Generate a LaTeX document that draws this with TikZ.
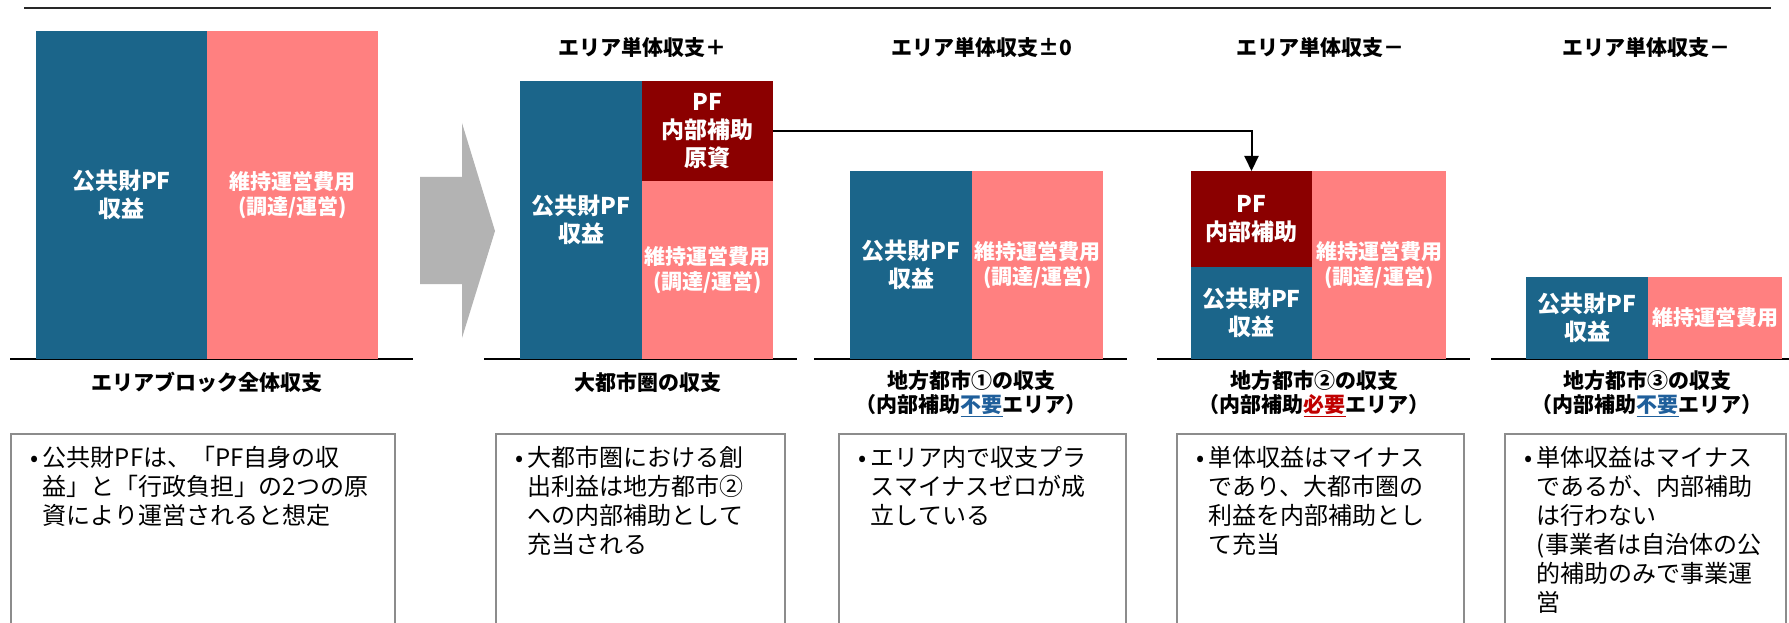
\documentclass[tikz,border=0pt]{standalone}
\usepackage{fontspec}
\setmainfont{Noto Sans CJK JP}
\usetikzlibrary{arrows.meta}
\definecolor{revblue}{RGB}{27,101,138}
\definecolor{costpink}{RGB}{255,128,128}
\definecolor{subred}{RGB}{139,0,0}
\definecolor{arrowgray}{RGB}{179,179,179}
\definecolor{notegray}{RGB}{140,140,140}
\definecolor{rulegray}{RGB}{40,40,40}
\definecolor{noneedblue}{RGB}{31,95,155}
\definecolor{needred}{RGB}{192,0,0}

\begin{document}
\begin{tikzpicture}[x=1pt, y=-1pt, >={Triangle[width=14pt,length=15pt]},
        revbar/.style={fill=revblue, text=white, inner sep=0pt, outer sep=0pt, align=center, font=\fontsize{23}{28}\selectfont\bfseries},
        subbar/.style={revbar, fill=subred},
        costbar/.style={revbar, fill=costpink, font=\fontsize{21}{25}\selectfont\bfseries},
        title/.style={font=\fontsize{21}{25}\selectfont\bfseries},
        caption/.style={align=center, inner sep=0pt, font=\fontsize{21}{24}\selectfont\bfseries},
        note/.style={draw=notegray, line width=1.5pt, anchor=north west, align=left, inner xsep=20pt, inner ysep=12pt, text depth=200pt, font=\fontsize{24}{29}\selectfont}]
        \useasboundingbox (0,0) rectangle (1789,623);
        \clip (0,0) rectangle (1789,623);

        % Rules
        \draw[line width=1.5pt, rulegray] (24,8) -- (1771,8);
        \foreach \a/\b in {10/413, 484/797, 814/1127, 1157/1470, 1491/1789}
            \draw[line width=1.5pt] (\a,359) -- (\b,359);

        % Whole area
        \node[revbar, minimum width=171pt, minimum height=328pt] (allrev) at (121.5,195) {公共財PF\\収益};
        \node[costbar, minimum width=171pt, minimum height=328pt] (allcost) at (292.5,195) {維持運営費用\\(調達/運営)};
        \fill[arrowgray] (420,177) -- (462,177) -- (462,123) -- (495,231) -- (462,338) -- (462,284) -- (420,284) -- cycle;

        % Metro area
        \node[revbar, minimum width=122pt, minimum height=278pt] (metrorev) at (581,220) {公共財PF\\収益};
        \node[subbar, minimum width=131pt, minimum height=100pt] (metrosrc) at (707.5,131) {PF\\内部補助\\原資};
        \node[costbar, minimum width=131pt, minimum height=178pt] (metrocost) at (707.5,270) {維持運営費用\\(調達/運営)};

        % City 1
        \node[revbar, minimum width=122pt, minimum height=188pt] (cityArev) at (911,265) {公共財PF\\収益};
        \node[costbar, minimum width=131pt, minimum height=188pt] (cityAcost) at (1037.5,265) {維持運営費用\\(調達/運営)};

        % City 2
        \node[subbar, minimum width=121pt, minimum height=96pt] (cityBsub) at (1251.5,219) {PF\\内部補助};
        \node[revbar, minimum width=121pt, minimum height=92pt] (cityBrev) at (1251.5,313) {公共財PF\\収益};
        \node[costbar, minimum width=134pt, minimum height=188pt] (cityBcost) at (1379,265) {維持運営費用\\(調達/運営)};

        % City 3
        \node[revbar, minimum width=122pt, minimum height=82pt] (cityCrev) at (1587,318) {公共財PF\\収益};
        \node[costbar, minimum width=134pt, minimum height=82pt] (cityCcost) at (1715,318) {維持運営費用};

        % Subsidy flow
        \draw[->, line width=2pt] (metrosrc.east) -| (cityBsub.north);

        % Titles
        \node[title] (metrottl) at (642,47) {エリア単体収支＋};
        \node[title] (cityAttl) at (982,47) {エリア単体収支±0};
        \node[title] (cityBttl) at (1320,47) {エリア単体収支－};
        \node[title] (cityCttl) at (1646,47) {エリア単体収支－};

        % Captions
        \node[caption] (allcap) at (207,382) {エリアブロック全体収支};
        \node[caption] (metrocap) at (648,382) {大都市圏の収支};
        \node[caption] (cityAcap) at (971,394) {地方都市①の収支\\（内部補助\textcolor{noneedblue}{\underline{不要}}エリア）};
        \node[caption] (cityBcap) at (1314,394) {地方都市②の収支\\（内部補助\textcolor{needred}{\underline{必要}}エリア）};
        \node[caption] (cityCcap) at (1647,394) {地方都市③の収支\\（内部補助\textcolor{noneedblue}{\underline{不要}}エリア）};

        % Notes
        \node[note, text width=344pt] (allnote) at (10,433) {\begin{tabular}[t]{@{}l@{\hspace{4pt}}l@{}}•&公共財PFは、「PF自身の収\\&益」と「行政負担」の2つの原\\&資により運営されると想定\end{tabular}};
        \node[note, text width=249pt] (metronote) at (495,433) {\begin{tabular}[t]{@{}l@{\hspace{4pt}}l@{}}•&大都市圏における創\\&出利益は地方都市②\\&への内部補助として\\&充当される\end{tabular}};
        \node[note, text width=247pt] (cityAnote) at (838,433) {\begin{tabular}[t]{@{}l@{\hspace{4pt}}l@{}}•&エリア内で収支プラ\\&スマイナスゼロが成\\&立している\end{tabular}};
        \node[note, text width=247pt] (cityBnote) at (1176,433) {\begin{tabular}[t]{@{}l@{\hspace{4pt}}l@{}}•&単体収益はマイナス\\&であり、大都市圏の\\&利益を内部補助とし\\&て充当\end{tabular}};
        \node[note, text width=241pt] (cityCnote) at (1504,433) {\begin{tabular}[t]{@{}l@{\hspace{4pt}}l@{}}•&単体収益はマイナス\\&であるが、内部補助\\&は行わない\\&(事業者は自治体の公\\&的補助のみで事業運\\&営\end{tabular}};
    \end{tikzpicture}
\end{document}
